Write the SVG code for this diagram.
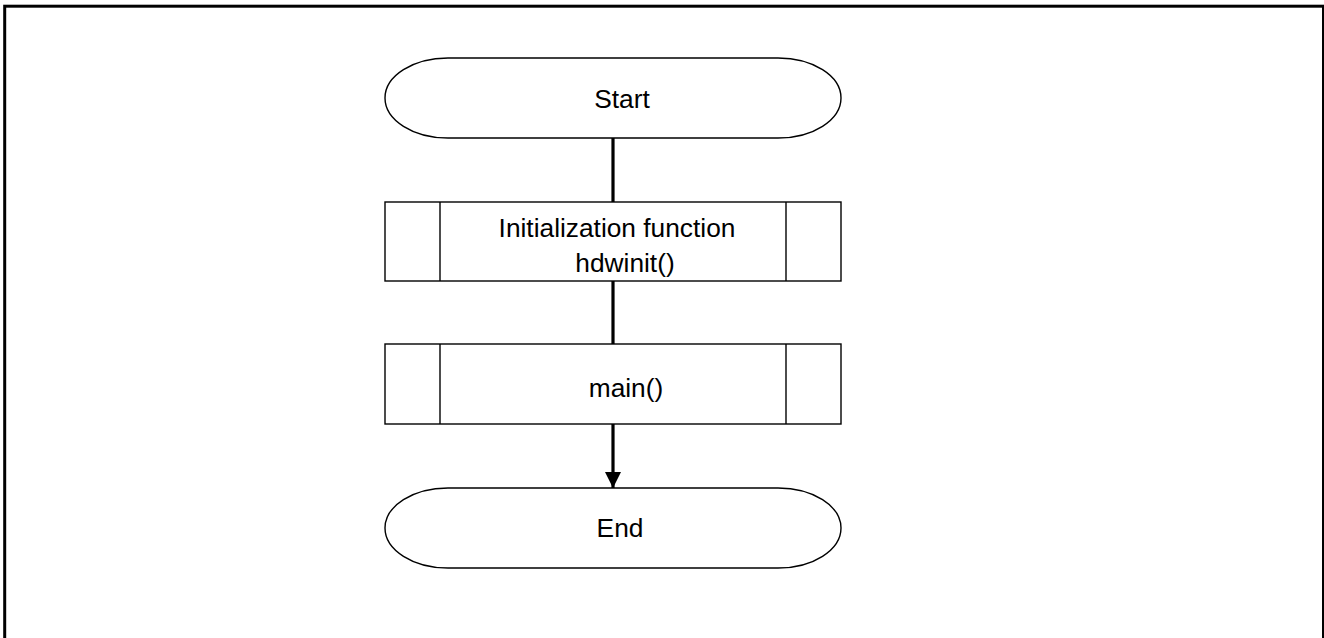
<svg xmlns="http://www.w3.org/2000/svg" width="1324" height="638" viewBox="0 0 1324 638">
<style>
.shape{fill:#fff;stroke:#000;stroke-width:1.4}
.conn{stroke:#000;stroke-width:3.2;fill:none}
text{font-family:"Liberation Sans",Arial,sans-serif;font-size:26.3px;fill:#000;text-anchor:middle}
</style>
<defs>
<marker id="arr" markerUnits="userSpaceOnUse" markerWidth="18" markerHeight="16" refX="16" refY="8" orient="auto">
<path d="M0,0 L16,8 L0,16 Z" fill="#000"/>
</marker>
</defs>
<rect x="0" y="0" width="1324" height="638" fill="#fff"/>
<rect x="4.7" y="6.2" width="1318.8" height="640" fill="none" stroke="#000" stroke-width="3"/>
<g id="connectors">
<line class="conn" x1="613" y1="138" x2="613" y2="202"/>
<line class="conn" x1="613" y1="281" x2="613" y2="344"/>
<line class="conn" x1="613" y1="424" x2="613" y2="488" marker-end="url(#arr)"/>
</g>
<g id="start">
<path class="shape" d="M448,58 H778 A63,40 0 0 1 778,138 H448 A63,40 0 0 1 448,58 Z"/>
<text x="622" y="108">Start</text>
</g>
<g id="hdwinit">
<rect class="shape" x="385" y="202" width="456" height="79"/>
<line class="shape" x1="440" y1="202" x2="440" y2="281"/>
<line class="shape" x1="786" y1="202" x2="786" y2="281"/>
<text x="617" y="237">Initialization function</text>
<text x="625" y="272">hdwinit()</text>
</g>
<g id="main">
<rect class="shape" x="385" y="344" width="456" height="80"/>
<line class="shape" x1="440" y1="344" x2="440" y2="424"/>
<line class="shape" x1="786" y1="344" x2="786" y2="424"/>
<text x="626" y="397">main()</text>
</g>
<g id="end">
<path class="shape" d="M448,488 H778 A63,40 0 0 1 778,568 H448 A63,40 0 0 1 448,488 Z"/>
<text x="620" y="537">End</text>
</g>
</svg>
